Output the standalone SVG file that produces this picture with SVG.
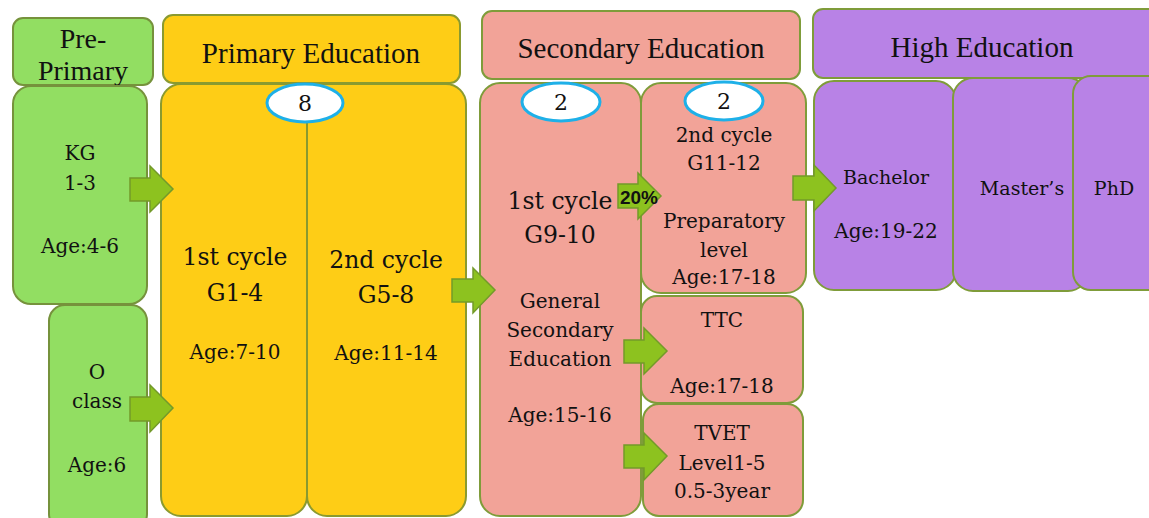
<svg xmlns="http://www.w3.org/2000/svg" width="1149" height="518" viewBox="0 0 1149 518">
<style>
.g{fill:#92de62;stroke:#76923c;stroke-width:2}
.y{fill:#fecd16;stroke:#8a9a30;stroke-width:2}
.s{fill:#f2a398;stroke:#7f9c3a;stroke-width:2}
.p{fill:#b882e6;stroke:#7f9c3a;stroke-width:2}
.el{fill:#ffffff;stroke:#1eb0e8;stroke-width:3}
.ar{fill:#8dc21f;stroke:#739a2a;stroke-width:1.5;stroke-linejoin:miter}
.h{font-family:"Liberation Serif","Times New Roman",serif;font-size:29px;fill:#111;text-anchor:middle}
.t{font-family:"DejaVu Serif",serif;font-size:20px;fill:#111;text-anchor:middle}
.big{font-size:23.5px}
.n{font-size:22px}
.b{font-family:"Liberation Sans",Arial,sans-serif;font-weight:bold;font-size:19px;fill:#111}
</style>
<rect width="1149" height="518" fill="#ffffff"/>

<g id="pre-primary-header">
<rect class="g" x="13" y="18" width="140" height="67" rx="10"/>
<text class="h" x="83" y="48" style="font-size:28px">Pre-</text>
<text class="h" x="83" y="80" style="font-size:28px">Primary</text>
</g>
<g id="primary-header">
<rect class="y" x="163" y="15" width="297" height="68" rx="10"/>
<text class="h" x="311" y="63">Primary Education</text>
</g>
<g id="secondary-header">
<rect class="s" x="482" y="11" width="318" height="68" rx="10"/>
<text class="h" x="641" y="58">Secondary Education</text>
</g>
<g id="high-header">
<rect class="p" x="813" y="9" width="350" height="69" rx="10"/>
<text class="h" x="982" y="57">High Education</text>
</g>

<g id="kg">
<rect class="g" x="13" y="86" width="134" height="218" rx="18"/>
<text class="t" x="80" y="160">KG</text>
<text class="t" x="80" y="190">1-3</text>
<text class="t" x="80" y="253">Age:4-6</text>
</g>
<g id="o-class">
<rect class="g" x="49" y="305" width="98" height="225" rx="16"/>
<text class="t" x="97" y="379">O</text>
<text class="t" x="97" y="408">class</text>
<text class="t" x="97" y="472">Age:6</text>
</g>

<g id="primary-1st">
<path class="y" d="M161,104 A20,20 0 0 1 181,84 L307,84 L307,496 A20,20 0 0 1 287,516 L181,516 A20,20 0 0 1 161,496 Z"/>
<text class="t big" x="235" y="265">1st cycle</text>
<text class="t big" x="235" y="301">G1-4</text>
<text class="t" x="235" y="359">Age:7-10</text>
</g>
<g id="primary-2nd">
<path class="y" d="M307,84 L446,84 A20,20 0 0 1 466,104 L466,496 A20,20 0 0 1 446,516 L327,516 A20,20 0 0 1 307,496 Z"/>
<text class="t big" x="386" y="268">2nd cycle</text>
<text class="t big" x="386" y="303">G5-8</text>
<text class="t" x="386" y="360">Age:11-14</text>
</g>
<g id="primary-years">
<ellipse class="el" cx="305" cy="103" rx="38" ry="19"/>
<text class="t n" x="305" y="111">8</text>
</g>

<g id="secondary-1st">
<rect class="s" x="480" y="83" width="161" height="433" rx="20"/>
<ellipse class="el" cx="561" cy="102" rx="39" ry="19"/>
<text class="t n" x="561" y="110">2</text>
<text class="t big" x="560" y="209">1st cycle</text>
<text class="t big" x="560" y="243">G9-10</text>
<text class="t" x="560" y="308">General</text>
<text class="t" x="560" y="337">Secondary</text>
<text class="t" x="560" y="366">Education</text>
<text class="t" x="560" y="422">Age:15-16</text>
</g>
<g id="secondary-2nd">
<rect class="s" x="641" y="83" width="165" height="210" rx="20"/>
<ellipse class="el" cx="724" cy="101" rx="39" ry="19"/>
<text class="t n" x="724" y="109">2</text>
<text class="t" x="724" y="142">2nd cycle</text>
<text class="t" x="724" y="170">G11-12</text>
<text class="t" x="724" y="228">Preparatory</text>
<text class="t" x="724" y="257">level</text>
<text class="t" x="724" y="284">Age:17-18</text>
</g>
<g id="ttc">
<rect class="s" x="641" y="296" width="162" height="107" rx="16"/>
<text class="t" x="722" y="327">TTC</text>
<text class="t" x="722" y="393">Age:17-18</text>
</g>
<g id="tvet">
<rect class="s" x="643" y="404" width="160" height="112" rx="16"/>
<text class="t" x="722" y="440">TVET</text>
<text class="t" x="722" y="470">Level1-5</text>
<text class="t" x="722" y="498">0.5-3year</text>
</g>

<g id="bachelor">
<rect class="p" x="814" y="81" width="142" height="209" rx="20"/>
<text class="t" x="886" y="184" style="font-size:19px">Bachelor</text>
<text class="t" x="886" y="238">Age:19-22</text>
</g>
<g id="masters">
<rect class="p" x="953" y="78" width="135" height="213" rx="20"/>
<text class="t" x="1022" y="195" style="font-size:19px">Master’s</text>
</g>
<g id="phd">
<rect class="p" x="1073" y="76" width="100" height="214" rx="18"/>
<text class="t" x="1114" y="195" style="font-size:19px">PhD</text>
</g>

<g id="connectors">
<polygon class="ar" points="130,178 150,178 150,166 173,189 150,212 150,201 130,201"/>
<polygon class="ar" points="130,397 150,397 150,385 173,408 150,432 150,421 130,421"/>
<polygon class="ar" points="452,279 473,279 473,268 495,290 473,313 473,302 452,302"/>
<polygon class="ar" points="618,184 638,184 638,173 661,196 638,219 638,208 618,208"/>
<text class="b" x="620" y="204" textLength="38" lengthAdjust="spacingAndGlyphs">20%</text>
<polygon class="ar" points="624,340 644,340 644,328 667,351 644,374 644,363 624,363"/>
<polygon class="ar" points="624,445 644,445 644,433 667,456 644,480 644,468 624,468"/>
<polygon class="ar" points="793,176 814,176 814,165 836,188 814,211 814,200 793,200"/>
</g>
</svg>
